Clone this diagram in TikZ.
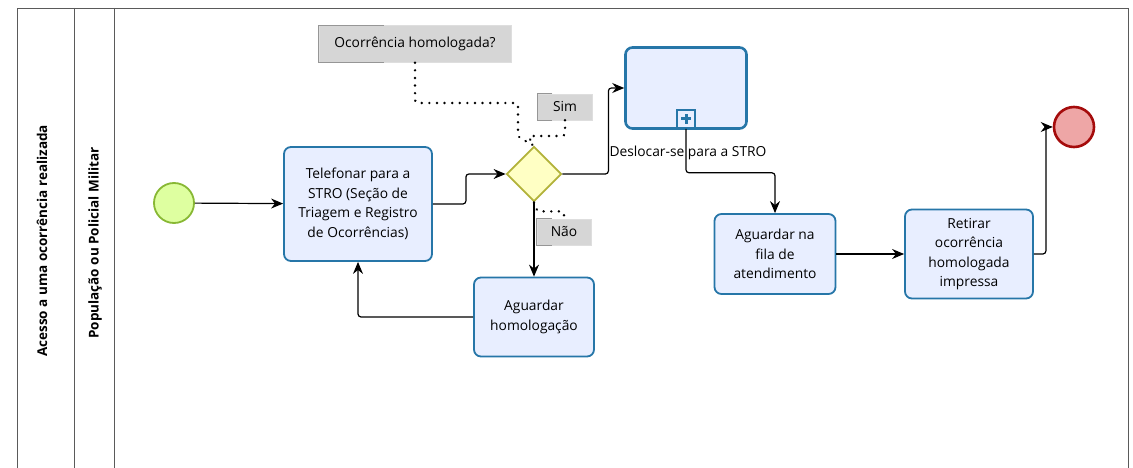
\documentclass[tikz,border=0pt]{standalone}
\usepackage{fontspec}
\setmainfont{Open Sans}
\usetikzlibrary{positioning}
\usetikzlibrary{arrows.meta}
\usetikzlibrary{shapes.geometric}
\definecolor{taskfill}{RGB}{232,238,255}
\definecolor{taskline}{RGB}{38,118,168}
\definecolor{gwfill}{RGB}{255,255,196}
\definecolor{gwline}{RGB}{178,178,58}
\definecolor{startfill}{RGB}{222,255,160}
\definecolor{startline}{RGB}{136,184,52}
\definecolor{endfill}{RGB}{238,166,166}
\definecolor{endline}{RGB}{165,12,12}
\definecolor{notefill}{RGB}{214,214,214}
\definecolor{noteline}{RGB}{150,150,150}
\definecolor{poolline}{RGB}{90,90,90}

\begin{document}
\begin{tikzpicture}[x=1pt, y=-1pt,
  task/.style={draw=taskline, fill=taskfill, line width=1.8pt, rounded corners=7pt,
    align=center, inner sep=0pt, font=\fontsize{13.8}{19.5}\selectfont},
  gateway/.style={diamond, aspect=1, draw=gwline, fill=gwfill, line width=1.8pt,
    minimum width=55pt, minimum height=55pt, inner sep=0pt},
  startev/.style={circle, draw=startline, fill=startfill, line width=1.8pt, minimum size=40pt, inner sep=0pt},
  endev/.style={circle, draw=endline, fill=endfill, line width=2.6pt, minimum size=40pt, inner sep=0pt},
  note/.style={fill=notefill, draw=notefill!80!white, inner sep=0pt, font=\fontsize{13.8}{16}\selectfont},
  flow/.style={-{Stealth[length=12pt,width=10pt]}, line width=1.2pt, rounded corners=3pt},
  assoc/.style={line width=2.6pt, dash pattern=on 0.1pt off 7.5pt, line cap=round, rounded corners=3pt},
  lanelabel/.style={rotate=90, font=\bfseries\fontsize{13.5}{15}\selectfont}]
\useasboundingbox (0,0) rectangle (1133,468);
\fill[white] (0,0) rectangle (1133,468);

% pool and lane
\draw[poolline, line width=0.8pt] (17,468) -- (17,8) -- (1128,8) -- (1128,468);
\draw[poolline, line width=0.8pt] (74,8) -- (74,468);
\draw[poolline, line width=0.8pt] (114,8) -- (114,468);
\node[lanelabel] (pool) at (42,241) {Acesso a uma ocorrência realizada};
\node[lanelabel] (lane) at (95,243) {População ou Policial Militar};

% events and tasks
\node[startev] (start) at (174,203) {};
\node[task, minimum width=148pt, minimum height=114pt] (tel) at (358,204)
  {Telefonar para a\\STRO (Seção de\\Triagem e Registro\\de Ocorrências)};
\node[gateway] (gw) at (534,174) {};
\node[task, minimum width=120pt, minimum height=79pt] (homol) at (534,317)
  {Aguardar\\homologação};
\node[task, line width=2.6pt, minimum width=121pt, minimum height=81pt] (sub) at (686,88) {};
\node[draw=taskline, fill=taskfill, line width=1.6pt, minimum size=18pt, inner sep=0pt,
  above=1pt of sub.south] (plusbox) {};
\draw[taskline, line width=3pt] ([xshift=-5pt]plusbox.center) -- ([xshift=5pt]plusbox.center);
\draw[taskline, line width=3pt] ([yshift=-5pt]plusbox.center) -- ([yshift=5pt]plusbox.center);
\node[font=\fontsize{13.8}{16}\selectfont] (sublabel) at (688,153) {Deslocar-se para a STRO};
\node[task, minimum width=121pt, minimum height=80pt] (fila) at (775,254)
  {Aguardar na\\fila de\\atendimento};
\node[task, minimum width=128pt, minimum height=89pt] (ret) at (969,254)
  {Retirar\\ocorrência\\homologada\\impressa};
\node[endev] (end) at (1074,127) {};

% annotations
\node[note, minimum width=192pt, minimum height=37pt] (quest) at (415,44) {Ocorrência homologada?};
\node[note, minimum width=55pt, minimum height=26pt] (sim) at (565,107) {Sim};
\node[note, minimum width=54pt, minimum height=26pt] (nao) at (564,232) {Não};
\draw[noteline, line width=1pt] ([xshift=65pt]quest.north west) -- (quest.north west) -- (quest.south west) -- ([xshift=65pt]quest.south west);
\draw[noteline, line width=1pt] ([xshift=15pt]sim.north west) -- (sim.north west) -- (sim.south west) -- ([xshift=15pt]sim.south west);
\draw[noteline, line width=1pt] ([xshift=15pt]nao.north west) -- (nao.north west) -- (nao.south west) -- ([xshift=15pt]nao.south west);

\coordinate (qa) at (518,103);
\coordinate (sa) at (528,136);
\draw[assoc] (quest.south) |- (qa) -- ++(0,34) -- (gw.north);
\draw[assoc] (sim.south) |- (sa) -- (gw.north);
\draw[assoc] (gw.south) -- ++(3,9) -| (nao.north);

% sequence flows
\draw[flow] (start) -- (tel);
\draw[flow] (tel.east) -- ++(33,0) |- (gw.west);
\draw[flow] (gw.east) -- ++(46,0) |- (sub.west);
\draw[flow] (gw.south) -- (homol.north);
\draw[flow] (homol.west) -| (tel.south);
\draw[flow] (plusbox.south) -- ++(0,44) -| (fila.north);
\draw[flow] (fila) -- (ret);
\draw[flow] (ret.east) -- ++(12,0) |- (end.west);
\end{tikzpicture}
\end{document}
